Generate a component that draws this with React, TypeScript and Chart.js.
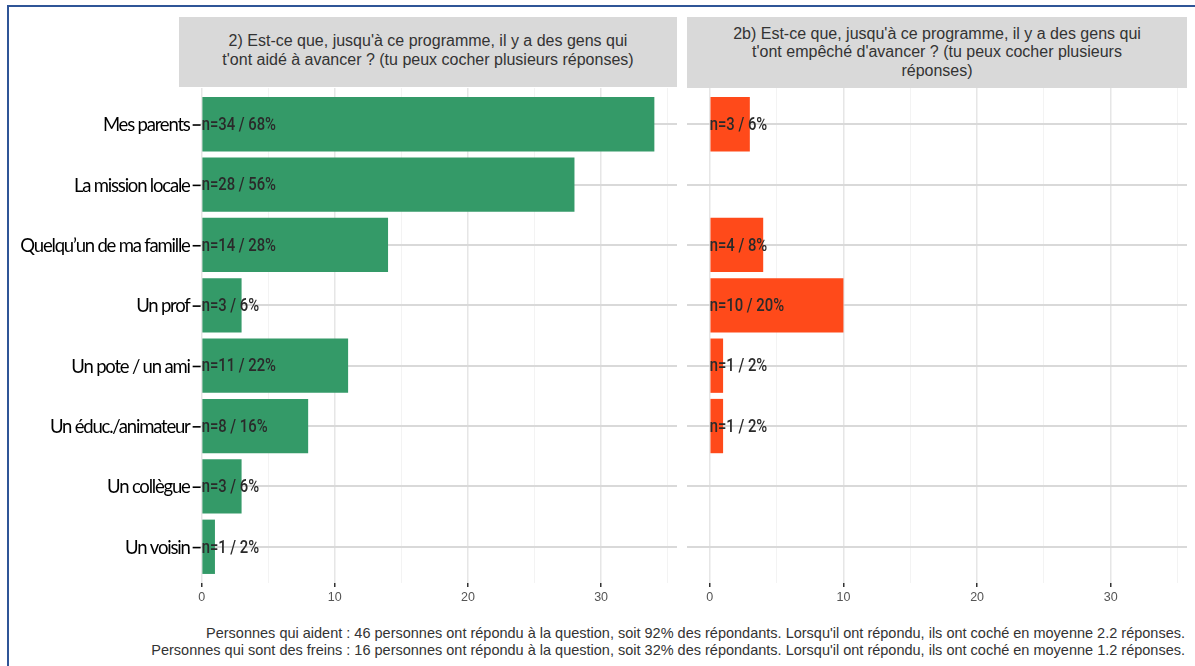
import { useEffect, useRef } from "react";
import { Chart, registerables } from "chart.js";

Chart.register(...registerables);

// ---- data ----
const categories = [
  "Mes parents",
  "La mission locale",
  "Quelqu’un de ma famille",
  "Un prof",
  "Un pote / un ami",
  "Un éduc./animateur",
  "Un collègue",
  "Un voisin",
];
const aidesCounts = [34, 28, 14, 3, 11, 8, 3, 1];
const aidesPct = [68, 56, 28, 6, 22, 16, 6, 2];
const freinsCounts = [3, 0, 4, 10, 1, 1, 0, 0];
const freinsPct = [6, 0, 8, 20, 2, 2, 0, 0];
const majorTicks = [0, 10, 20, 30];
const minorTicks = [5, 15, 25, 35];
const xMin = -1.7;
const xMax = 35.7;

const titleLeft = [
  "2) Est-ce que, jusqu'à ce programme, il y a des gens qui",
  "t'ont aidé à avancer ? (tu peux cocher plusieurs réponses)",
];
const titleRight = [
  "2b) Est-ce que, jusqu'à ce programme, il y a des gens qui",
  "t'ont empêché d'avancer ? (tu peux cocher plusieurs",
  "réponses)",
];
const footerLines = [
  "Personnes qui aident : 46 personnes ont répondu à la question, soit 92% des répondants. Lorsqu'il ont répondu, ils ont coché en moyenne 2.2 réponses.",
  "Personnes qui sont des freins : 16 personnes ont répondu à la question, soit 32% des répondants. Lorsqu'il ont répondu, ils ont coché en moyenne 1.2 réponses.",
];

const GREEN = "#349a68";
const RED = "#ff4a1a";
const CANVAS_H = 530;

function makeConfig(
  counts: number[],
  pcts: number[],
  color: string,
  side: "left" | "right"
): any {
  const allTicks = [...majorTicks, ...minorTicks].sort((a, b) => a - b);
  const barLabels = {
    id: "barLabels" + side,
    afterDatasetsDraw(chart: any) {
      const { ctx } = chart;
      const xs = chart.scales.x;
      const ys = chart.scales.y;
      counts.forEach((v, i) => {
        if (!v) return;
        const x = xs.getPixelForValue(0);
        const y = ys.getPixelForValue(i);
        ctx.save();
        ctx.translate(x, y);
        ctx.scale(0.78, 1);
        ctx.font = '500 19px Roboto, "Noto Sans", sans-serif';
        ctx.fillStyle = "#2a2a2a";
        ctx.textAlign = "left";
        ctx.textBaseline = "middle";
        ctx.fillText(`n=${v} / ${pcts[i]}%`, 0, 1);
        ctx.restore();
      });
    },
  };
  const catLabels = {
    id: "catLabels",
    beforeDatasetsDraw(chart: any) {
      const { ctx, chartArea } = chart;
      const xs = chart.scales.x;
      const ys = chart.scales.y;
      const x0 = xs.getPixelForValue(0);
      ctx.save();
      ctx.fillStyle = "#ffffff";
      ctx.fillRect(chartArea.left, chartArea.top, x0 - 1 - chartArea.left, chartArea.bottom - chartArea.top);
      ctx.font = '18.5px Lato, "Open Sans", sans-serif';
      (ctx as any).letterSpacing = "-1.2px";
      ctx.fillStyle = "#000000";
      ctx.textAlign = "right";
      ctx.textBaseline = "middle";
      categories.forEach((c, i) => {
        const y = ys.getPixelForValue(i);
        ctx.fillText(c, x0 - 12, y + 1);
        ctx.fillRect(x0 - 9, y, 8, 1.6);
      });
      ctx.restore();
    },
  };
  return {
    type: "bar",
    data: {
      datasets: [
        {
          data: counts.map((v, i) => ({ x: v, y: i })),
          backgroundColor: color,
          borderWidth: 0,
          barPercentage: 0.9,
          categoryPercentage: 1,
        },
      ],
    },
    options: {
      indexAxis: "y",
      animation: false,
      responsive: false,
      layout: { padding: { left: 0, right: side === "left" ? 3 : 8, top: 0, bottom: 0 } },
      plugins: { legend: { display: false }, tooltip: { enabled: false }, title: { display: false } },
      scales: {
        x: {
          type: "linear",
          min: xMin,
          max: xMax,
          offset: false,
          afterBuildTicks: (s: any) => {
            s.ticks = allTicks.map((v) => ({ value: v }));
          },
          afterFit: (s: any) => {
            s.height = 35;
          },
          ticks: {
            autoSkip: false,
            maxRotation: 0,
            padding: 3,
            color: "#555555",
            font: { family: '"Liberation Sans", Arial, sans-serif', size: 12.5 },
            callback: (v: any) => (majorTicks.includes(Number(v)) ? String(v) : ""),
          },
          grid: {
            offset: false,
            color: (c: any) => (majorTicks.includes(c.tick?.value) ? "#e6e6e6" : "#f3f3f3"),
            lineWidth: (c: any) => (majorTicks.includes(c.tick?.value) ? 1.5 : 1),
            tickColor: (c: any) => (majorTicks.includes(c.tick?.value) ? "#333333" : "rgba(0,0,0,0)"),
            tickLength: 4,
            tickWidth: 1.5,
          },
          border: { display: false },
        },
        y: {
          type: "linear",
          min: -0.6,
          max: categories.length - 0.4,
          reverse: true,
          offset: false,
          afterBuildTicks: (s: any) => {
            s.ticks = categories.map((_, i) => ({ value: i }));
          },
          afterFit: (s: any) => {
            s.width = side === "left" ? 179 : 7;
          },
          ticks: { display: false },
          grid: { offset: false, color: "#d9d9d9", lineWidth: 2, drawTicks: false },
          border: { display: false },
        },
      },
    },
    plugins: side === "left" ? [catLabels, barLabels] : [barLabels],
  };
}

function Panel(props: {
  counts: number[];
  pcts: number[];
  color: string;
  side: "left" | "right";
  left: number;
  width: number;
}) {
  const ref = useRef<HTMLCanvasElement | null>(null);
  useEffect(() => {
    if (!ref.current) return;
    const chart = new Chart(ref.current, makeConfig(props.counts, props.pcts, props.color, props.side));
    return () => chart.destroy();
  }, []);
  return (
    <canvas
      ref={ref}
      width={props.width}
      height={CANVAS_H}
      style={{ position: "absolute", left: props.left, top: 88, width: props.width, height: CANVAS_H }}
    />
  );
}

const stripStyle: any = {
  position: "absolute",
  top: 17,
  background: "#d9d9d9",
  color: "#333333",
  fontFamily: '"Liberation Sans", Arial, sans-serif',
  fontSize: 16,
  lineHeight: "19px",
  textAlign: "center",
  display: "flex",
  flexDirection: "column",
  justifyContent: "center",
  whiteSpace: "nowrap",
};

export default function App() {
  return (
    <div
      style={{
        position: "fixed",
        left: 0,
        top: 0,
        width: 1195,
        height: 666,
        background: "#ffffff",
        overflow: "hidden",
      }}
    >
      <div
        style={{
          position: "absolute",
          left: 7,
          top: 5,
          width: 1300,
          height: 800,
          borderTop: "2px solid #2f5597",
          borderLeft: "2px solid #2f5597",
        }}
      />
      <div style={{ ...stripStyle, left: 179, width: 498, height: 70, paddingBottom: 5, boxSizing: "border-box" }}>
        {titleLeft.map((t, i) => (
          <div key={i}>{t}</div>
        ))}
      </div>
      <div style={{ ...stripStyle, left: 687, width: 500, height: 71, lineHeight: "18.5px" }}>
        {titleRight.map((t, i) => (
          <div key={i}>{t}</div>
        ))}
      </div>
      <Panel counts={aidesCounts} pcts={aidesPct} color={GREEN} side="left" left={0} width={680} />
      <Panel counts={freinsCounts} pcts={freinsPct} color={RED} side="right" left={680} width={515} />
      <div
        style={{
          position: "absolute",
          right: 10,
          top: 625,
          textAlign: "right",
          whiteSpace: "nowrap",
          color: "#333333",
          fontFamily: '"Liberation Sans", Arial, sans-serif',
          fontSize: 14.5,
          lineHeight: "16.5px",
        }}
      >
        {footerLines.map((t, i) => (
          <div key={i}>{t}</div>
        ))}
      </div>
    </div>
  );
}
